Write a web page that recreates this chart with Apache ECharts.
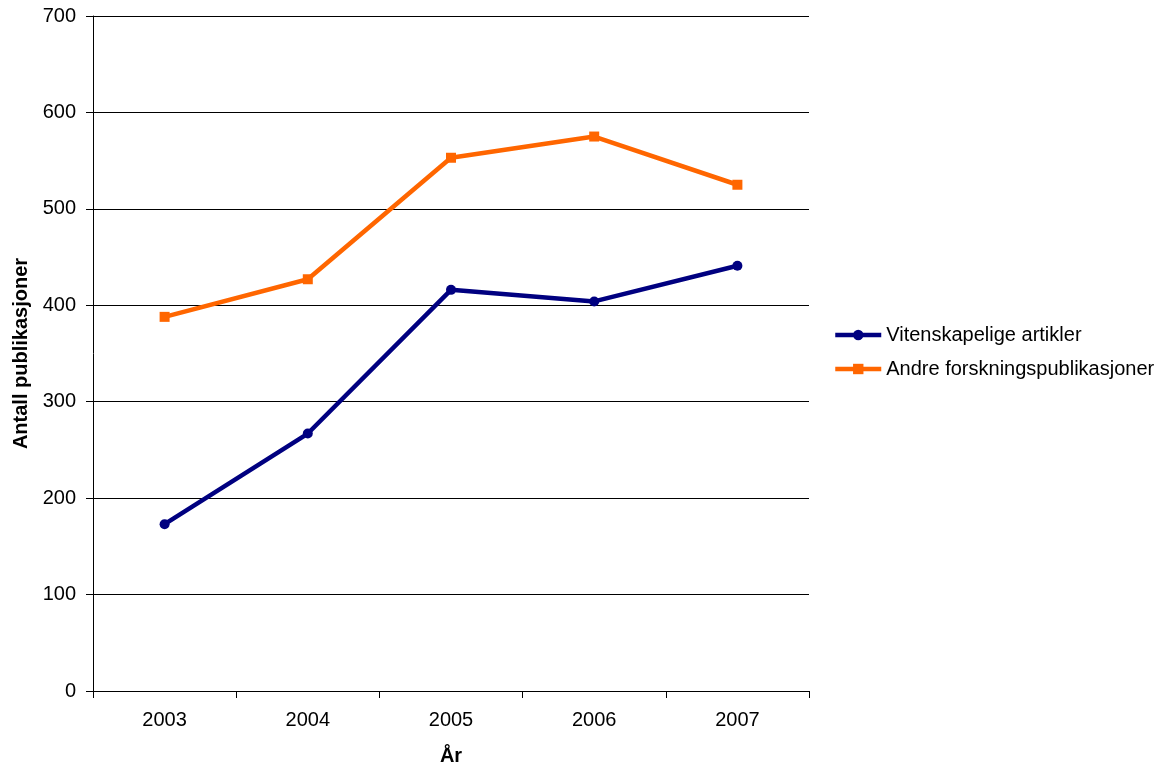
<!DOCTYPE html>
<html>
<head>
<meta charset="utf-8">
<script src="https://cdn.jsdelivr.net/npm/echarts@6/dist/echarts.min.js"></script>
<style>
  html, body { margin: 0; padding: 0; background: #fff; }
  #chart { width: 1167px; height: 767px; }
</style>
</head>
<body>
<div id="chart"></div>
<script>
// Publication counts per year
const years = ['2003', '2004', '2005', '2006', '2007'];
const vitenskapelige = [173, 267, 416, 404, 441];
const andre = [388, 427, 553, 575, 525];
const yTicks = [0, 100, 200, 300, 400, 500, 600, 700];

const font = 'Liberation Sans, Arial, sans-serif';

const chart = echarts.init(document.getElementById('chart'));
chart.setOption({
  animation: false,
  backgroundColor: '#ffffff',
  grid: { left: 93, right: 358, top: 16, bottom: 76, containLabel: false, outerBoundsMode: 'none' },
  legend: {
    orient: 'vertical',
    left: 833,
    top: 325,
    padding: 0,
    itemWidth: 46,
    itemHeight: 13,
    itemGap: 14,
    lineStyle: { width: 4.5 },
    textStyle: { fontFamily: font, fontSize: 20, color: '#000' },
    data: ['Vitenskapelige artikler', 'Andre forskningspublikasjoner']
  },
  xAxis: {
    type: 'category',
    data: years,
    boundaryGap: true,
    name: 'År',
    nameLocation: 'middle',
    nameGap: 55,
    nameTextStyle: { fontFamily: font, fontSize: 20, fontWeight: 'bold', color: '#000' },
    axisLine: { lineStyle: { color: '#000', width: 1 } },
    axisTick: { show: true, alignWithLabel: false, length: 7, inside: false, lineStyle: { color: '#000' } },
    axisLabel: { fontFamily: font, fontSize: 20, color: '#000', margin: 19 },
    splitLine: { show: false }
  },
  yAxis: {
    type: 'value',
    min: yTicks[0],
    max: yTicks[yTicks.length - 1],
    interval: 100,
    name: 'Antall publikasjoner',
    nameLocation: 'middle',
    nameGap: 62,
    nameRotate: 90,
    nameTextStyle: { fontFamily: font, fontSize: 20, fontWeight: 'bold', color: '#000' },
    axisLine: { show: true, lineStyle: { color: '#000', width: 1 } },
    axisTick: { show: true, length: 7, lineStyle: { color: '#000' } },
    axisLabel: { fontFamily: font, fontSize: 20, color: '#000', margin: 17 },
    splitLine: { show: true, lineStyle: { color: '#000', width: 1 } }
  },
  series: [
    {
      name: 'Vitenskapelige artikler',
      type: 'line',
      data: vitenskapelige,
      symbol: 'circle',
      symbolSize: 10,
      color: '#000080',
      lineStyle: { color: '#000080', width: 4.5 },
      itemStyle: { color: '#000080' }
    },
    {
      name: 'Andre forskningspublikasjoner',
      type: 'line',
      data: andre,
      symbol: 'rect',
      symbolSize: 10,
      color: '#FF6600',
      lineStyle: { color: '#FF6600', width: 4.5 },
      itemStyle: { color: '#FF6600' }
    }
  ]
});
</script>
</body>
</html>
